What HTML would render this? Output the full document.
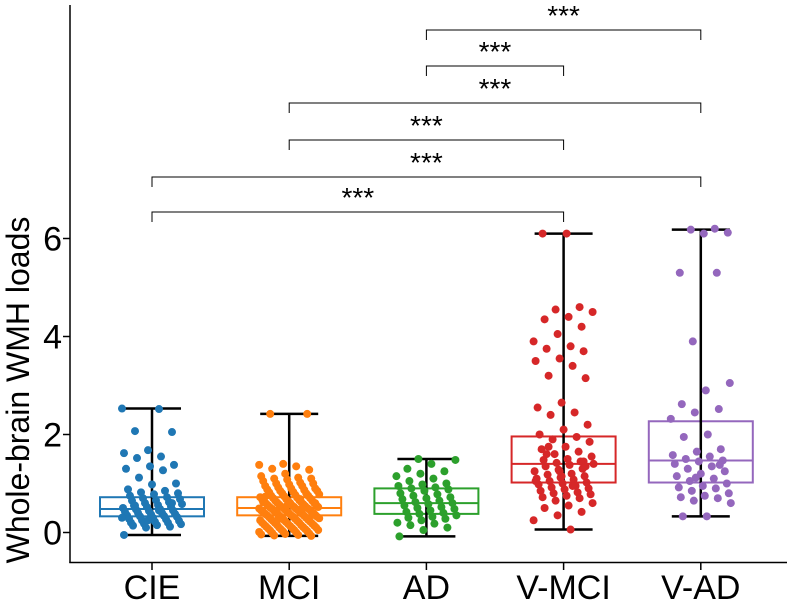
<!DOCTYPE html>
<html><head><meta charset="utf-8"><style>
html,body{margin:0;padding:0;background:#fff;}
svg{display:block;font-family:"Liberation Sans",Arial,sans-serif;}
</style></head><body>
<svg id="chart" width="787" height="603" viewBox="0 0 787 603">
<g id="axes"></g><g id="boxes"></g><g id="points"></g><g id="sig"></g>
</svg>
<script>
const categories = ["CIE","MCI","AD","V-MCI","V-AD"];
const colors = ["#1f77b4","#ff7f0e","#2ca02c","#d62728","#9467bd"];
const whiskerLow = [-0.05,-0.07,-0.08,0.06,0.33];
const whiskerHigh = [2.53,2.42,1.5,6.1,6.18];
const q1 = [0.33,0.35,0.38,1.02,1.02];
const medians = [0.48,0.5,0.6,1.4,1.47];
const q3 = [0.72,0.72,0.9,1.96,2.27];
const yTicks = [0,2,4,6];
const ptsCIE = [2.53,2.52,2.07,2.05,1.68,1.62,1.55,1.52,1.38,1.35,1.3,1.27,1.12,1.0,0.98,0.88,0.85,0.82,0.8,0.78,0.75,0.72,0.7,0.68,0.66,0.65,0.62,0.6,0.58,0.56,0.55,0.53,0.52,0.5,0.48,0.47,0.45,0.44,0.42,0.4,0.4,0.38,0.37,0.35,0.34,0.33,0.32,0.3,0.28,0.27,0.25,0.24,0.22,0.2,0.2,0.18,0.17,0.15,0.14,0.12,0.1,0.3,0.45,0.55,0.6,0.25,-0.05];
const ptsMCI = [2.42,2.42,1.4,1.38,1.35,1.3,1.28,1.2,1.15,1.12,1.1,1.1,1.08,1.05,1.02,1.0,1.0,0.98,0.95,0.95,0.92,0.9,0.9,0.88,0.87,0.85,0.85,0.83,0.82,0.8,0.8,0.78,0.77,0.75,0.75,0.74,0.72,0.71,0.7,0.7,0.68,0.67,0.66,0.65,0.65,0.64,0.63,0.62,0.61,0.6,0.6,0.59,0.58,0.57,0.56,0.55,0.55,0.54,0.53,0.52,0.52,0.51,0.5,0.5,0.49,0.48,0.48,0.47,0.46,0.45,0.45,0.44,0.43,0.42,0.42,0.41,0.4,0.4,0.39,0.38,0.38,0.37,0.36,0.35,0.35,0.34,0.33,0.32,0.32,0.31,0.3,0.3,0.29,0.28,0.27,0.26,0.25,0.25,0.24,0.23,0.22,0.21,0.2,0.2,0.19,0.18,0.17,0.16,0.15,0.15,0.14,0.13,0.12,0.11,0.1,0.1,0.09,0.08,0.07,0.06,0.05,0.05,0.04,0.03,0.02,0.01,0.0,-0.01,-0.02,-0.03,-0.04,-0.05,-0.06,-0.07,0.55,0.62,0.68,0.44,0.36,0.58,0.73,0.49,0.27,0.6];
const ptsAD = [1.5,1.48,1.4,1.3,1.25,1.2,1.15,1.1,1.05,1.0,0.98,0.95,0.92,0.9,0.88,0.85,0.8,0.78,0.75,0.72,0.7,0.68,0.65,0.62,0.6,0.58,0.55,0.52,0.5,0.48,0.45,0.42,0.4,0.38,0.35,0.32,0.3,0.28,0.25,0.2,0.18,0.15,0.1,0.05,-0.08];
const ptsVMCI = [6.1,6.1,4.6,4.55,4.5,4.4,4.35,4.2,4.05,3.9,3.8,3.75,3.7,3.55,3.5,3.4,3.2,3.15,2.65,2.55,2.45,2.4,2.2,2.1,2.0,1.95,1.9,1.85,1.75,1.7,1.65,1.6,1.55,1.5,1.48,1.45,1.42,1.4,1.38,1.35,1.3,1.28,1.25,1.2,1.18,1.15,1.12,1.1,1.08,1.05,1.02,1.0,0.98,0.95,0.92,0.9,0.88,0.85,0.82,0.8,0.78,0.75,0.72,0.7,0.65,0.6,0.55,0.5,0.42,0.35,0.25,0.06,1.6,1.45,1.25,1.05,0.95,1.75,1.35,1.15];
const ptsVAD = [6.2,6.18,6.12,6.1,5.3,5.3,3.9,3.05,2.9,2.62,2.52,2.45,2.32,2.0,1.95,1.7,1.65,1.58,1.55,1.5,1.47,1.45,1.4,1.35,1.3,1.25,1.2,1.15,1.1,1.05,1.0,0.95,0.92,0.9,0.85,0.8,0.75,0.72,0.7,0.65,0.6,0.33,0.33,1.38,1.12];
const allPts = [ptsCIE,ptsMCI,ptsAD,ptsVMCI,ptsVAD];
const sigPairs = [[0,3],[0,4],[1,3],[1,4],[2,3],[2,4]];
const sigLabels = ["***","***","***","***","***","***"];
const sigLevels = [212,177,140,103,66,30];

const NS="http://www.w3.org/2000/svg";
const xPos = i => 152 + i*137.2;
const yPos = v => 532.5 - v*49;
function el(tag, attrs, parent){const e=document.createElementNS(NS,tag);for(const k in attrs)e.setAttribute(k,attrs[k]);parent.appendChild(e);return e;}
const axes=document.getElementById('axes'), boxes=document.getElementById('boxes'), points=document.getElementById('points'), sig=document.getElementById('sig');

let a=el('line',{x1:70,y1:5,x2:70,y2:563,stroke:'#000','stroke-width':1.5},axes);


a=el('line',{x1:69.3,y1:562.5,x2:787,y2:562.5,stroke:'#000','stroke-width':1.5},axes);


yTicks.forEach(t=>{
  const tk=el('line',{x1:63,x2:70,y1:yPos(t),y2:yPos(t),stroke:'#000','stroke-width':1.5},axes);
  
  
  const tx=el('text',{x:62,y:yPos(t)+12,'text-anchor':'end','font-size':34,fill:'#000'},axes);
  tx.textContent=t;
  
  
});
const yt=el('text',{x:0,y:0,transform:'translate(29,390) rotate(-90)','text-anchor':'middle','font-size':32,fill:'#000'},axes);
yt.textContent='Whole-brain WMH loads';



categories.forEach((c,i)=>{
  const x=xPos(i);
  const tk=el('line',{x1:x,x2:x,y1:563,y2:570,stroke:'#000','stroke-width':1.5},axes);
  
  
  const tx=el('text',{x:x,y:599,'text-anchor':'middle','font-size':34,fill:'#000'},axes);
  tx.textContent=c;
  
  
  const g=el('g',{},boxes);
  
  
  el('rect',{x:x-52,y:yPos(q3[i]),width:104,height:yPos(q1[i])-yPos(q3[i]),fill:'none',stroke:colors[i],'stroke-width':2},g);
  el('line',{x1:x-52,x2:x+52,y1:yPos(medians[i]),y2:yPos(medians[i]),stroke:colors[i],'stroke-width':2},g);
  const w=el('g',{},boxes);
  
  
  el('line',{x1:x,x2:x,y1:yPos(whiskerLow[i]),y2:yPos(whiskerHigh[i]),stroke:'#000','stroke-width':2.5},w);
  el('line',{x1:x-29,x2:x+29,y1:yPos(whiskerLow[i]),y2:yPos(whiskerLow[i]),stroke:'#000','stroke-width':2.5},w);
  el('line',{x1:x-29,x2:x+29,y1:yPos(whiskerHigh[i]),y2:yPos(whiskerHigh[i]),stroke:'#000','stroke-width':2.5},w);
  allPts[i].forEach((v,j)=>{
    const jit=(((j*37+i*11)%61)/60-0.5)*60;
    const p=el('circle',{cx:x+jit,cy:yPos(v),r:4,fill:colors[i]},points);
    
    
  });
});

sigPairs.forEach((pr,k)=>{
  const y=sigLevels[k], x1=xPos(pr[0]), x2=xPos(pr[1]);
  const g=el('g',{},sig);
  
  
  el('path',{d:`M${x1},${y+10}V${y}H${x2}V${y+10}`,fill:'none',stroke:'#000','stroke-width':1},g);
  const t=el('text',{x:(x1+x2)/2,y:y-5,'text-anchor':'middle','font-size':28,fill:'#000'},g);
  t.textContent=sigLabels[k];
  
  
});
</script>
</body></html>
